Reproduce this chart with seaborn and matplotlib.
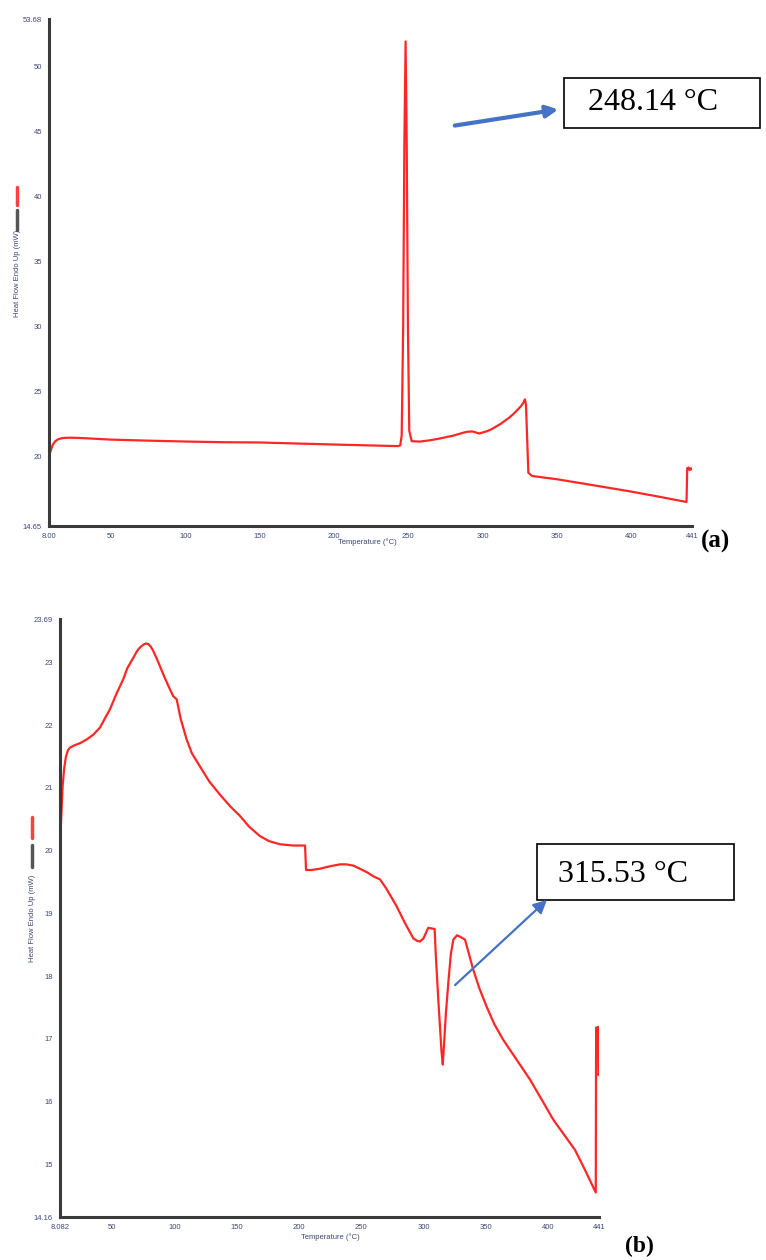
import matplotlib
matplotlib.use("Agg")
import matplotlib.pyplot as plt
from matplotlib.lines import Line2D
from matplotlib.patches import Rectangle, FancyArrowPatch
import numpy as np
import pandas as pd
import seaborn as sns

# ---- DSC trace (a) ----
temp_a = [8.0, 9.0, 10.5, 12.0, 14.0, 17.0, 22.0, 30.0, 49.8, 75.0, 100.9, 125.0,
          150.0, 175.0, 200.6, 225.0, 243.0, 244.5, 245.5, 246.5, 247.3, 248.14,
          248.9, 249.7, 250.6, 252.2, 257.8, 264.0, 270.0, 280.0, 286.0, 289.3,
          293.0, 295.5, 297.8, 300.0, 303.0, 306.0, 309.0, 312.0, 315.0, 318.0,
          321.0, 324.0, 326.0, 327.4, 328.5, 329.2, 330.8, 333.3, 350.0, 375.0,
          400.0, 420.0, 437.3, 437.8, 438.8, 439.5, 440.5, 441.0]
flow_a = [20.0, 20.4, 20.9, 21.15, 21.32, 21.42, 21.45, 21.42, 21.3, 21.22, 21.15, 21.1,
          21.08, 21.0, 20.92, 20.85, 20.8, 20.85, 21.6, 30.0, 44.0, 51.95,
          44.0, 30.0, 22.0, 21.18, 21.15, 21.24, 21.36, 21.6, 21.8, 21.9,
          21.93, 21.85, 21.77, 21.85, 21.95, 22.1, 22.3, 22.5, 22.75, 23.0,
          23.3, 23.65, 23.9, 24.13, 24.4, 24.0, 18.75, 18.5, 18.25, 17.78,
          17.3, 16.88, 16.5, 19.1, 19.15, 18.95, 19.1, 19.0]

# ---- DSC trace (b) ----
temp_b = [8.082, 9.0, 10.2, 11.5, 12.9, 14.5, 16.1, 20.0, 24.1, 29.5, 35.0, 40.2,
          44.0, 48.2, 53.0, 58.9, 62.0, 66.9, 70.0, 72.5, 75.0, 77.0, 79.0, 81.0,
          83.0, 86.0, 91.0, 95.0, 99.0, 101.8, 105.0, 109.8, 114.0, 120.5, 128.0,
          136.6, 145.0, 152.7, 160.0, 168.7, 176.0, 184.8, 190.0, 195.5, 204.9,
          205.7, 210.0, 216.9, 225.0, 233.0, 238.0, 243.7, 250.0, 255.0, 259.7,
          265.1, 270.0, 278.5, 285.0, 291.9, 295.0, 297.2, 300.0, 303.9, 306.0,
          309.0, 310.0, 312.0, 314.5, 315.53, 316.5, 318.0, 320.0, 322.0, 324.0,
          327.0, 330.0, 333.4, 340.0, 345.0, 350.8, 357.0, 364.2, 372.0, 385.6,
          395.0, 404.3, 413.0, 421.7, 430.0, 438.4, 438.7, 439.5, 440.2, 440.6, 441.0]
flow_b = [20.02, 20.5, 21.03, 21.32, 21.5, 21.6, 21.64, 21.68, 21.71, 21.77, 21.85, 21.96,
          22.1, 22.25, 22.48, 22.73, 22.9, 23.07, 23.18, 23.24, 23.28, 23.3, 23.29, 23.25,
          23.18, 23.05, 22.81, 22.63, 22.46, 22.41, 22.1, 21.77, 21.55, 21.34, 21.1,
          20.89, 20.7, 20.55, 20.38, 20.23, 20.15, 20.10, 20.09, 20.08, 20.08,
          19.69, 19.69, 19.71, 19.75, 19.78, 19.78, 19.76, 19.7, 19.65, 19.59,
          19.54, 19.4, 19.11, 18.85, 18.60, 18.56, 18.55, 18.6, 18.77, 18.76,
          18.75, 18.3, 17.6, 16.8, 16.59, 16.9, 17.4, 17.9, 18.35, 18.58,
          18.65, 18.62, 18.58, 18.10, 17.8, 17.51, 17.23, 16.98, 16.75, 16.35,
          16.03, 15.71, 15.47, 15.23, 14.9, 14.55, 17.18, 17.15, 17.19, 16.42, 16.45]

# ---- axis ticks ----
xticks_a = [8.0, 50, 100, 150, 200, 250, 300, 350, 400, 441]
xlabels_a = ["8.00", "50", "100", "150", "200", "250", "300", "350", "400", "441"]
yticks_a = [14.65, 20, 25, 30, 35, 40, 45, 50, 53.68]
ylabels_a = ["14.65", "20", "25", "30", "35", "40", "45", "50", "53.68"]

xticks_b = [8.082, 50, 100, 150, 200, 250, 300, 350, 400, 441]
xlabels_b = ["8.082", "50", "100", "150", "200", "250", "300", "350", "400", "441"]
yticks_b = [14.16, 15, 16, 17, 18, 19, 20, 21, 22, 23, 23.69]
ylabels_b = ["14.16", "15", "16", "17", "18", "19", "20", "21", "22", "23", "23.69"]

peak_a = "248.14 °C"
peak_b = "315.53 °C"

sns.set_style("white")
plt.rcParams["font.family"] = ["Liberation Sans", "DejaVu Sans"]

W, H = 766, 1260
fig = plt.figure(figsize=(W / 100, H / 100), dpi=100)


def fx(x):
    return x / W


def fy(y):
    return 1 - y / H


def axes_box(left, top, right, bottom):
    return [fx(left), fy(bottom), (right - left) / W, (bottom - top) / H]


ax1 = fig.add_axes(axes_box(49, 19, 692, 526))
ax2 = fig.add_axes(axes_box(60, 619, 599, 1217))

line_color = "#ff2626"
tick_color = "#3d4777"

for ax, T, F, xt, xl, yt, yl, xlim, ylim in [
    (ax1, temp_a, flow_a, xticks_a, xlabels_a, yticks_a, ylabels_a, (8.0, 441), (14.65, 53.68)),
    (ax2, temp_b, flow_b, xticks_b, xlabels_b, yticks_b, ylabels_b, (8.082, 441), (14.16, 23.69)),
]:
    df = pd.DataFrame({"Temperature": T, "HeatFlow": F})
    sns.lineplot(data=df, x="Temperature", y="HeatFlow", ax=ax, sort=False,
                 estimator=None, color=line_color, linewidth=1.6)
    ax.set_xlim(*xlim)
    ax.set_ylim(*ylim)
    ax.set_xticks(xt)
    ax.set_xticklabels(xl)
    ax.set_yticks(yt)
    ax.set_yticklabels(yl)
    ax.set_xlabel("")
    ax.set_ylabel("")
    for s in ("top", "right"):
        ax.spines[s].set_visible(False)
    for s in ("left", "bottom"):
        ax.spines[s].set_color("#3a3a3a")
        ax.spines[s].set_linewidth(2.2)
    ax.tick_params(axis="both", direction="out", length=3, width=1.2,
                   color="black", labelsize=5.5, labelcolor=tick_color, pad=2)
    ax.patch.set_alpha(0)

# axis titles and the small legend swatches beside the y label
for lx, ly, bars, xlx, xly in [
    (18, 273, [(187, 205, "#ff4040"), (210, 230, "#555555")], 367, 542),
    (33, 918, [(817, 838, "#ff4040"), (845, 867, "#555555")], 330, 1237),
]:
    fig.text(fx(lx), fy(ly), "Heat Flow Endo Up (mW)", rotation=90,
             ha="center", va="center", fontsize=5.5, color=tick_color)
    for y0, y1, c in bars:
        fig.add_artist(Line2D([fx(lx - 1), fx(lx - 1)], [fy(y0), fy(y1)],
                              color=c, linewidth=2.5, transform=fig.transFigure))
    fig.text(fx(xlx), fy(xly), "Temperature (°C)", ha="center", va="center",
             fontsize=5.5, color=tick_color)

# peak annotations
serif = ["Liberation Serif", "DejaVu Serif"]
for (bl, bt, br, bb), tx, ty, txt, fs in [
    ((564, 78, 760, 128), 588, 103, peak_a, 23),
    ((537, 844, 734, 900), 558, 875, peak_b, 23),
]:
    fig.add_artist(Rectangle((fx(bl), fy(bb)), (br - bl) / W, (bb - bt) / H,
                             fill=True, facecolor="white", edgecolor="black",
                             linewidth=1.2, transform=fig.transFigure))
    fig.text(fx(tx), fy(ty), txt, ha="left", va="center", fontsize=fs,
             family=serif, color="black")

arrow_blue = "#4472c4"
fig.add_artist(FancyArrowPatch((fx(452), fy(126)), (fx(561), fy(109)),
                               transform=fig.transFigure,
                               arrowstyle="-|>,head_length=7,head_width=3.5",
                               color=arrow_blue, linewidth=3))
fig.add_artist(FancyArrowPatch((fx(453), fy(987)), (fx(549), fy(898)),
                               transform=fig.transFigure,
                               arrowstyle="-|>,head_length=8,head_width=4",
                               color=arrow_blue, linewidth=1.6))

# panel letters
fig.text(fx(715), fy(541), "(a)", ha="center", va="center", fontsize=18,
         fontweight="bold", family=serif, color="black")
fig.text(fx(639), fy(1246), "(b)", ha="center", va="center", fontsize=17,
         fontweight="bold", family=serif, color="black")

fig.savefig("out.png", dpi=100)
